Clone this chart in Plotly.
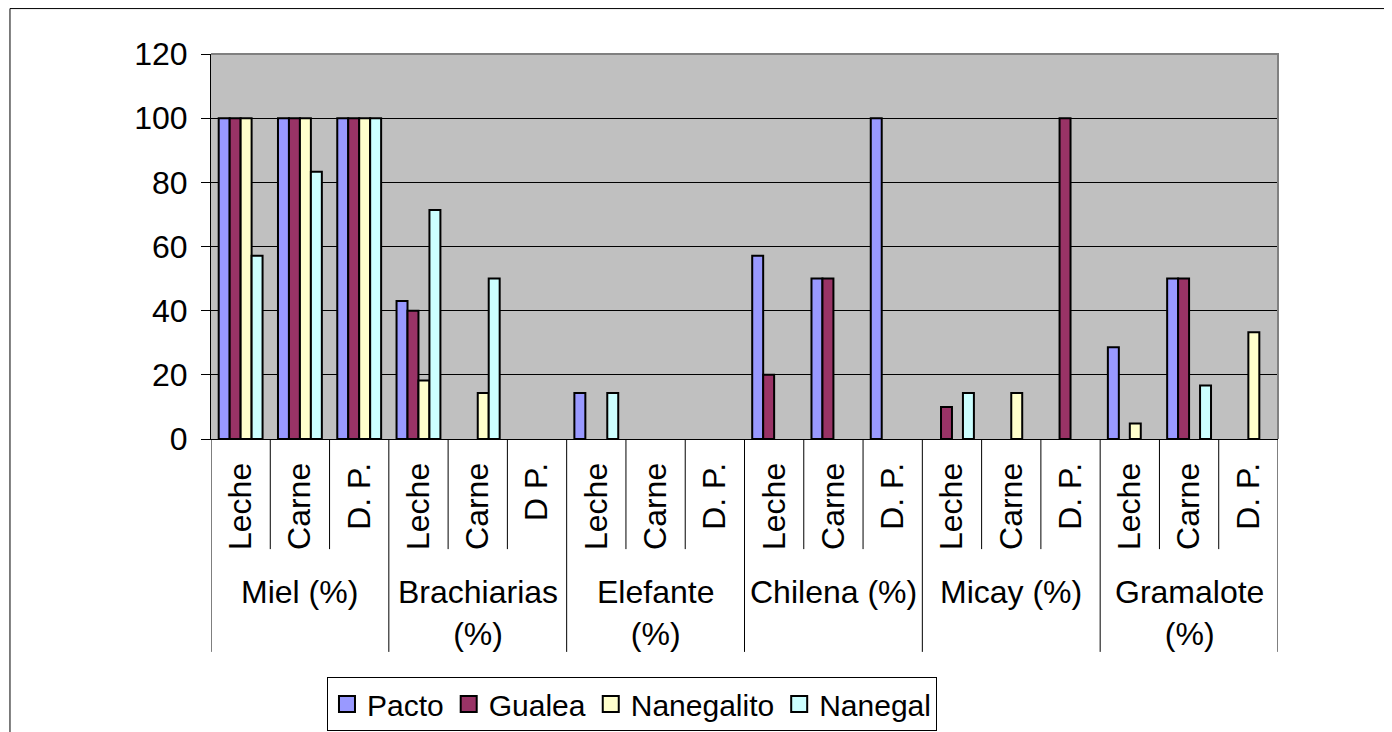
import plotly.graph_objects as go

# forage types (top level) and production systems (second level)
groups = ["Miel (%)", "Brachiarias<br>(%)", "Elefante<br>(%)", "Chilena (%)", "Micay (%)", "Gramalote<br>(%)"]
systems = [
    ["Leche", "Carne", "D. P."],
    ["Leche", "Carne", "D P."],
    ["Leche", "Carne", "D. P."],
    ["Leche", "Carne", "D. P."],
    ["Leche", "Carne", "D. P."],
    ["Leche", "Carne", "D. P."],
]

# series values, one per sub-category (None = no bar)
pacto = [100, 100, 100, 43, None, None, 14.3, None, None, 57.1, 50, 100, None, None, None, 28.6, 50, None]
gualea = [100, 100, 100, 40, None, None, None, None, None, 20, 50, None, 10, None, 100, None, 50, None]
nanegalito = [100, 100, 100, 18.2, 14.3, None, None, None, None, None, None, None, None, 14.3, None, 4.8, None, 33.3]
nanegal = [57.1, 83.3, 100, 71.4, 50, None, 14.3, None, None, None, None, None, 14.3, None, None, None, 16.7, None]

series = [
    ("Pacto", pacto, "#9999FF"),
    ("Gualea", gualea, "#993366"),
    ("Nanegalito", nanegalito, "#FFFFCC"),
    ("Nanegal", nanegal, "#CCFFFF"),
]

FONT = "Liberation Sans, Arial, sans-serif"

sub_labels = [s for grp in systems for s in grp]
xpos = list(range(len(sub_labels)))

fig = go.Figure()
for name, vals, color in series:
    fig.add_trace(go.Bar(
        x=xpos, y=vals, name=name, legendgroup=name, showlegend=False,
        marker=dict(color=color, line=dict(color="black", width=2)),
    ))
# legend keys: square swatches like the spreadsheet legend
for name, vals, color in series:
    fig.add_trace(go.Scatter(
        x=[None], y=[None], mode="markers", name=name, legendgroup=name,
        marker=dict(symbol="square", size=18, color=color, line=dict(color="black", width=2)),
    ))

# separators below the axis: short ones between systems, long ones between groups
shapes = []
n = len(sub_labels)
for i in range(n + 1):
    is_group_edge = i % 3 == 0
    shapes.append(dict(
        type="line", xref="x", yref="paper",
        x0=i - 0.5, x1=i - 0.5, y0=0, y1=-0.553 if is_group_edge else -0.286,
        line=dict(color="black", width=1),
    ))

# gray plot-area border (top and right)
shapes.append(dict(type="path", xref="paper", yref="paper", path="M0,1 L1,1 L1,0",
                   line=dict(color="#808080", width=2)))
# outer chart border
shapes.append(dict(type="rect", xref="paper", yref="paper",
                   x0=-0.1884, x1=1.13, y0=-0.80, y1=1.118,
                   line=dict(color="black", width=1)))

annotations = []
for g, name in enumerate(groups):
    annotations.append(dict(
        text=name, x=g * 3 + 1, xref="x", y=-0.345, yref="paper",
        xanchor="center", yanchor="top", showarrow=False,
        font=dict(family=FONT, size=32, color="black"),
    ))

fig.update_layout(
    width=1392, height=732,
    margin=dict(l=203, r=122, t=46, b=301, autoexpand=False),
    paper_bgcolor="white",
    plot_bgcolor="#C0C0C0",
    barmode="group",
    bargap=0.26,
    bargroupgap=0,
    font=dict(family=FONT, size=32, color="black"),
    shapes=shapes,
    annotations=annotations,
    showlegend=True,
    legend=dict(
        orientation="h", x=0.1087, xanchor="left", y=-0.618, yanchor="top",
        bordercolor="black", borderwidth=1, bgcolor="white",
        font=dict(family=FONT, size=30, color="black"),
        tracegroupgap=0, itemsizing="trace",
    ),
)

fig.update_xaxes(
    range=[-0.5, n - 0.5],
    tickvals=xpos, ticktext=sub_labels, tickangle=-90,
    ticks="", ticklabelstandoff=10,
    showline=True, linecolor="black", linewidth=1,
    showgrid=False, zeroline=False, automargin=False,
    tickfont=dict(family=FONT, size=32, color="black"),
)
fig.update_yaxes(
    range=[0, 120], dtick=20, tick0=0,
    ticks="outside", ticklen=9, tickcolor="black", tickwidth=1,
    ticklabelstandoff=7,
    showline=True, linecolor="black", linewidth=1,
    showgrid=True, gridcolor="black", gridwidth=1,
    zeroline=False, automargin=False,
    tickfont=dict(family=FONT, size=32, color="black"),
)

fig.write_html("out.html")
